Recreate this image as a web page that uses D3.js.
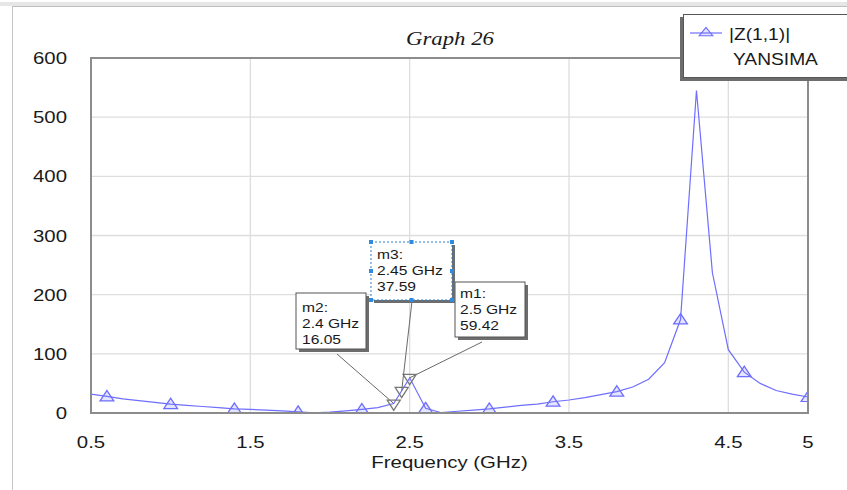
<!DOCTYPE html>
<html>
<head>
<meta charset="utf-8">
<script src="https://cdn.jsdelivr.net/npm/d3@7"></script>
<style>
  body { margin: 0; background: #fff; }
  svg { display: block; font-family: "Liberation Sans", Arial, sans-serif; }
</style>
</head>
<body>
<svg id="chart"></svg>
<script>
// data
const freq = [0.5, 0.6, 0.7, 0.8, 0.9, 1.0, 1.1, 1.2, 1.3, 1.4, 1.5, 1.6, 1.7, 1.8, 1.9, 2.0,
  2.1, 2.2, 2.3, 2.4, 2.45, 2.5, 2.6, 2.7, 2.8, 2.9, 3.0, 3.1, 3.2, 3.3, 3.4, 3.5, 3.6, 3.7,
  3.8, 3.9, 4.0, 4.1, 4.2, 4.3, 4.4, 4.5, 4.6, 4.7, 4.8, 4.9, 5.0];
const zmag = [32, 28, 24, 21, 18, 15, 13, 11, 9, 7, 6, 5, 3.5, 2, 0.2, 1.5,
  3.5, 6, 9, 16.05, 37.59, 59.42, 8, 0.5, 3, 5, 7, 10, 13, 15, 19, 22, 26, 31,
  36, 44, 57, 85, 158, 545, 237, 107, 69, 50, 38, 32, 27];
const markerFreq = [0.6, 1.0, 1.4, 1.8, 2.2, 2.6, 3.0, 3.4, 3.8, 4.2, 4.6, 5.0];
const xTicks = [0.5, 1.5, 2.5, 3.5, 4.5, 5];
const yTicks = [0, 100, 200, 300, 400, 500, 600];
const markerNames = ["m1", "m2", "m3"];
const markerF = [2.5, 2.4, 2.45];
const markerVal = [59.42, 16.05, 37.59];

const W = 847, H = 490;
const pLeft = 91, pRight = 808, pTop = 58, pBottom = 413;
const SX = 1.2; // reference text is stretched horizontally

const data = freq.map((f, i) => ({ f, v: zmag[i] }));

const svg = d3.select("#chart").attr("width", W).attr("height", H);

const x = d3.scaleLinear().domain([0.5, 5]).range([pLeft, pRight]);
const y = d3.scaleLinear().domain([0, 600]).range([pBottom, pTop]);

function txt(g, px, py, s, size, anchor, opts) {
  opts = opts || {};
  return g.append("text")
    .attr("transform", `translate(${px},${py}) scale(${SX},1)`)
    .attr("text-anchor", anchor || "start")
    .attr("font-size", size)
    .attr("font-family", opts.family || null)
    .attr("font-style", opts.style || null)
    .attr("fill", opts.fill || "#1a1a1a")
    .text(s);
}

// window frame
svg.append("rect").attr("x", 0).attr("y", 2).attr("width", W).attr("height", 4).attr("fill", "#e6e6e6");
svg.append("line").attr("x1", 12).attr("x2", W).attr("y1", 6.5).attr("y2", 6.5).attr("stroke", "#bdbdbd");
svg.append("line").attr("x1", 12.5).attr("x2", 12.5).attr("y1", 6).attr("y2", H).attr("stroke", "#c4c4c4");

// grid
svg.append("g").selectAll("line").data(xTicks.slice(1, -1)).enter().append("line")
  .attr("x1", d => x(d)).attr("x2", d => x(d)).attr("y1", pTop).attr("y2", pBottom)
  .attr("stroke", "#dedede").attr("stroke-width", 1.3);
svg.append("g").selectAll("line").data(yTicks.slice(1, -1)).enter().append("line")
  .attr("x1", pLeft).attr("x2", pRight).attr("y1", d => y(d)).attr("y2", d => y(d))
  .attr("stroke", "#dedede").attr("stroke-width", 1.3);

// tick labels
const tl = svg.append("g");
yTicks.forEach(t => txt(tl, 67, y(t) + 6, t, 17, "end"));
xTicks.forEach(t => txt(tl, x(t), pBottom + 35, t, 17, "middle"));
txt(tl, (pLeft + pRight) / 2, 468, "Frequency (GHz)", 17, "middle");
txt(tl, 450, 45, "Graph 26", 19, "middle", { family: "'Liberation Serif', 'Times New Roman', serif", style: "italic" });

// clip
svg.append("clipPath").attr("id", "plotclip").append("rect")
  .attr("x", pLeft).attr("y", pTop).attr("width", pRight - pLeft).attr("height", pBottom - pTop);

const plot = svg.append("g").attr("clip-path", "url(#plotclip)");
const blue = "#6e6eff";

plot.append("path").datum(data)
  .attr("fill", "none").attr("stroke", blue).attr("stroke-width", 1.2)
  .attr("d", d3.line().x(d => x(d.f)).y(d => y(d.v)));

const tri = d3.symbol().type(d3.symbolTriangle).size(62);
plot.selectAll(".mk").data(data.filter(d => markerFreq.includes(d.f))).enter().append("path")
  .attr("class", "mk")
  .attr("d", tri)
  .attr("transform", d => `translate(${x(d.f)},${y(d.v) + 1}) scale(1.15,1)`)
  .attr("fill", "rgba(110,110,255,0.18)").attr("stroke", blue).attr("stroke-width", 1.2);

// plot border
svg.append("rect").attr("x", pLeft).attr("y", pTop).attr("width", pRight - pLeft).attr("height", pBottom - pTop)
  .attr("fill", "none").attr("stroke", "#8c8c8c").attr("stroke-width", 2);

// marker callouts
const boxes = [
  { x: 455, y: 282, w: 70, h: 55, tx: 460, ty: 298, ax: 482, ay: 342, sel: false },
  { x: 296, y: 293, w: 70, h: 56, tx: 302, ty: 312, ax: 337, ay: 354, sel: false },
  { x: 371, y: 242, w: 81, h: 58, tx: 377, ty: 259, ax: 412, ay: 301, sel: true }
];
const mg = svg.append("g");
markerNames.forEach((name, i) => {
  const b = boxes[i];
  const px = x(markerF[i]), py = y(markerVal[i]);
  mg.append("line").attr("x1", b.ax).attr("y1", b.ay).attr("x2", px).attr("y2", py)
    .attr("stroke", "#6a6a6a").attr("stroke-width", 1);
  mg.append("path").attr("d", tri)
    .attr("transform", `translate(${px},${py}) rotate(180) scale(1.1,1)`)
    .attr("fill", "none").attr("stroke", "#777").attr("stroke-width", 1.2);
  mg.append("rect").attr("x", b.x + 3).attr("y", b.y + 3).attr("width", b.w).attr("height", b.h)
    .attr("fill", "#6d6d6d");
  const r = mg.append("rect").attr("x", b.x).attr("y", b.y).attr("width", b.w).attr("height", b.h)
    .attr("fill", "#fff").attr("stroke", b.sel ? "#2f7fd0" : "#555").attr("stroke-width", 1);
  if (b.sel) {
    r.attr("stroke-dasharray", "2,2");
    const hx = [b.x, b.x + b.w / 2, b.x + b.w], hy = [b.y, b.y + b.h / 2, b.y + b.h];
    hx.forEach((a, ia) => hy.forEach((c, ic) => {
      if (ia === 1 && ic === 1) return;
      mg.append("rect").attr("x", a - 2).attr("y", c - 2).attr("width", 4).attr("height", 4).attr("fill", "#2f8ae0");
    }));
  }
  const lines = [name + ":", markerF[i] + " GHz", markerVal[i].toFixed(2)];
  lines.forEach((s, k) => txt(mg, b.tx, b.ty + k * 16, s, 13, "start"));
});

// legend
const lg = svg.append("g");
lg.append("rect").attr("x", 680).attr("y", 17).attr("width", 180).attr("height", 64).attr("fill", "#6d6d6d");
lg.append("rect").attr("x", 683.5).attr("y", 14.5).attr("width", 180).attr("height", 63)
  .attr("fill", "#fff").attr("stroke", "#555");
lg.append("line").attr("x1", 690).attr("x2", 722).attr("y1", 33).attr("y2", 33).attr("stroke", blue).attr("stroke-width", 1.2);
lg.append("path").attr("d", tri).attr("transform", "translate(706,33) scale(1.15,0.8)")
  .attr("fill", "rgba(110,110,255,0.18)").attr("stroke", blue).attr("stroke-width", 1.1);
txt(lg, 729, 40, "|Z(1,1)|", 16, "start");
txt(lg, 733, 65, "YANSIMA", 16, "start");
</script>
</body>
</html>
